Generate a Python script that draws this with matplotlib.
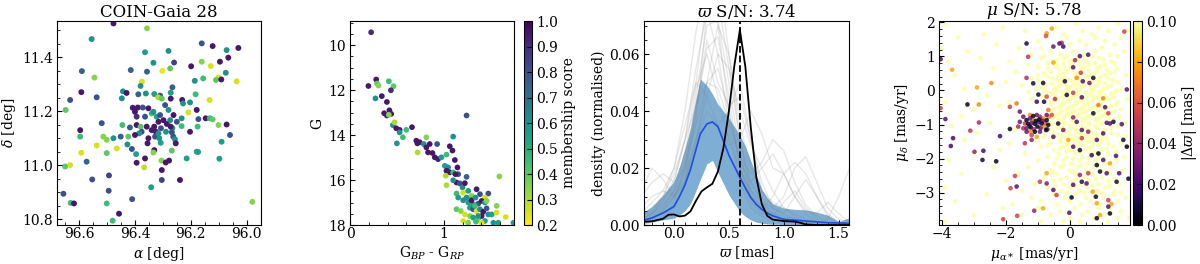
"""
Cluster summary plot: sky positions, CMD, parallax KDEs, proper motions
"""
import matplotlib.pyplot as plt
import numpy as np
from matplotlib import cm, colors

plt.rcParams['font.family'] = ['DejaVu Serif']
plt.rcParams['mathtext.fontset'] = 'dejavuserif'
plt.rcParams['font.size'] = 10
plt.rcParams['xtick.direction'] = 'in'
plt.rcParams['ytick.direction'] = 'in'
plt.rcParams['xtick.minor.visible'] = True
plt.rcParams['ytick.minor.visible'] = True
plt.rcParams['xtick.major.pad'] = 1.5
plt.rcParams['ytick.major.pad'] = 3
plt.rcParams['axes.labelpad'] = 2.5

# ---- panel 1: sky positions (ra, dec, membership score)
ra = [96.477, 96.357, 96.555, 96.161, 96.122, 96.03, 96.072, 96.28, 96.364, 96.066,
      96.334, 96.26, 96.161, 96.096, 96.129, 96.199, 96.59, 96.415, 96.357, 96.302,
      96.274, 96.075, 96.545, 96.156, 96.186, 96.101, 96.11, 96.091, 96.036, 96.375,
      96.38, 96.632, 96.592, 96.537, 96.443, 96.43, 96.447, 96.388, 96.361, 96.331,
      96.31, 96.272, 96.266, 96.317, 96.304, 96.292, 96.272, 96.231, 96.228, 96.203,
      96.183, 96.648, 96.519, 96.408, 96.39, 96.372, 96.4, 96.394, 96.364, 96.352,
      96.34, 96.334, 96.322, 96.31, 96.298, 96.316, 96.286, 96.274, 96.262, 96.25,
      96.233, 96.179, 96.173, 96.147, 96.132, 96.122, 96.209, 96.133, 96.596, 96.596,
      96.592, 96.445, 96.418, 96.394, 96.38, 96.376, 96.385, 96.358, 96.331, 96.325,
      96.307, 96.266, 96.268, 96.233, 96.203, 96.176, 96.513, 96.501, 96.477, 96.451,
      96.424, 96.427, 96.4, 96.352, 96.328, 96.313, 96.308, 96.355, 96.263, 96.257,
      96.254, 96.101, 96.072, 96.06, 96.09, 96.179, 96.268, 96.331, 96.334, 96.396,
      96.411, 96.465, 96.501, 96.537, 96.632, 96.65, 96.573, 96.394, 96.367, 96.364,
      96.305, 96.29, 96.278, 96.304, 96.304, 96.239, 96.215, 96.174, 96.098, 96.553,
      96.493, 96.656, 96.63, 96.618, 96.494, 96.501, 96.41, 96.342, 96.457, 96.48,
      95.98, 96.34, 96.28, 96.289, 96.272, 96.316]
dec = [11.526, 11.508, 11.468, 11.452, 11.442, 11.435, 11.427, 11.424, 11.419, 11.399,
       11.38, 11.381, 11.384, 11.384, 11.368, 11.367, 11.349, 11.353, 11.347, 11.35,
       11.359, 11.343, 11.325, 11.322, 11.313, 11.326, 11.316, 11.318, 11.311, 11.31,
       11.294, 11.242, 11.271, 11.252, 11.274, 11.268, 11.248, 11.263, 11.266, 11.264,
       11.258, 11.269, 11.289, 11.252, 11.247, 11.223, 11.247, 11.242, 11.229, 11.233,
       11.263, 11.205, 11.156, 11.213, 11.214, 11.214, 11.198, 11.18, 11.18, 11.211,
       11.192, 11.198, 11.18, 11.186, 11.167, 11.161, 11.153, 11.167, 11.186, 11.161,
       11.174, 11.205, 11.171, 11.174, 11.174, 11.17, 11.196, 11.242, 11.13, 11.106,
       11.046, 11.149, 11.14, 11.149, 11.143, 11.124, 11.118, 11.143, 11.143, 11.124,
       11.137, 11.137, 11.122, 11.145, 11.124, 11.143, 11.106, 11.094, 11.1, 11.106,
       11.106, 11.077, 11.112, 11.1, 11.106, 11.1, 11.083, 11.081, 11.106, 11.096,
       11.081, 11.149, 11.151, 11.112, 11.087, 11.05, 11.054, 11.056, 11.047, 11.041,
       11.06, 11.062, 11.045, 11.073, 11.0, 10.995, 11.013, 11.009, 10.992, 11.025,
       11.017, 11.01, 11.017, 10.982, 10.945, 10.945, 11.025, 11.049, 11.024, 10.947,
       10.962, 10.894, 10.86, 10.858, 10.905, 10.858, 10.874, 10.918, 10.82, 10.794,
       10.864, 11.13, 11.205, 11.124, 11.143, 11.118]
memb1 = [0.95, 0.35, 0.6, 0.8, 0.95, 0.95, 0.6, 0.6, 0.55, 0.95,
         0.6, 0.85, 0.35, 0.95, 0.25, 0.95, 0.75, 0.75, 0.75, 0.22,
         0.4, 0.6, 0.35, 0.45, 0.6, 0.25, 0.4, 0.95, 0.25, 0.25,
         0.6, 0.8, 0.95, 0.8, 0.6, 0.95, 0.6, 0.75, 0.6, 0.55,
         0.8, 0.55, 0.75, 0.3, 0.4, 0.8, 0.95, 0.95, 0.6, 0.6,
         0.45, 0.4, 0.8, 0.95, 0.95, 0.8, 0.95, 0.9, 0.8, 0.95,
         0.45, 0.6, 0.55, 0.8, 0.95, 0.95, 0.95, 0.6, 0.95, 0.8,
         0.6, 0.95, 0.8, 0.95, 0.45, 0.4, 0.25, 0.25, 0.95, 0.45,
         0.25, 0.45, 0.75, 0.95, 0.4, 0.8, 0.6, 0.95, 0.95, 0.95,
         0.8, 0.55, 0.8, 0.45, 0.95, 0.45, 0.35, 0.35, 0.6, 0.75,
         0.4, 0.6, 0.95, 0.95, 0.8, 0.6, 0.55, 0.95, 0.8, 0.6,
         0.95, 0.35, 0.95, 0.8, 0.55, 0.55, 0.4, 0.95, 0.35, 0.55,
         0.8, 0.25, 0.4, 0.25, 0.25, 0.4, 0.75, 0.95, 0.28, 0.95,
         0.35, 0.95, 0.95, 0.95, 0.85, 0.95, 0.55, 0.55, 0.55, 0.8,
         0.85, 0.8, 0.45, 0.95, 0.8, 0.45, 0.8, 0.55, 0.95, 0.45,
         0.35, 0.95, 0.6, 0.6, 0.95, 0.6]

# ---- panel 2: colour-magnitude diagram
bprp = [0.225, 0.196, 0.279, 0.289, 0.304, 0.271, 0.339, 0.414, 0.464, 0.436,
        0.393, 0.364, 0.393, 0.439, 0.42, 0.414, 0.457, 0.475, 0.493, 0.529,
        0.5, 0.529, 0.564, 0.6, 0.661, 0.707, 0.718, 0.743, 0.721, 0.786,
        0.814, 0.85, 0.814, 0.929, 0.832, 0.879, 0.904, 0.939, 0.975, 1.029,
        1.064, 1.093, 1.1, 1.011, 1.046, 1.029, 1.064, 1.021, 1.1, 1.118,
        1.146, 1.154, 1.125, 1.136, 1.171, 1.2, 1.029, 1.1, 1.243, 1.225,
        1.243, 1.136, 1.207, 1.261, 1.296, 1.35, 1.386, 1.475, 1.439, 1.593,
        1.154, 1.207, 1.261, 1.314, 1.368, 1.404, 1.439, 1.279, 1.314, 1.35,
        1.386, 1.421, 1.457, 1.475, 1.511, 1.564, 1.564, 1.136, 1.182, 1.225,
        1.279, 1.314, 1.368, 1.404, 1.439, 1.529, 1.582, 1.661, 1.207, 1.261,
        1.343, 1.404, 1.743, 1.243, 1.296, 1.339, 1.457, 1.368, 1.332]
gmag = [9.43, 11.82, 11.53, 11.71, 11.8, 12.37, 12.27, 11.61, 11.83, 12.01,
        12.53, 13.03, 13.13, 13.06, 12.9, 13.1, 13.56, 13.43, 13.7, 13.77,
        14.37, 13.88, 14.1, 13.77, 13.65, 14.25, 14.37, 14.32, 14.77, 14.4,
        14.55, 14.4, 14.1, 14.4, 14.77, 14.8, 14.99, 15.07, 14.99, 14.87,
        14.5, 14.69, 14.07, 15.37, 15.44, 15.59, 15.66, 15.81, 15.66, 15.11,
        15.44, 15.74, 15.74, 16.11, 16.15, 16.33, 16.23, 16.01, 15.86, 16.14,
        13.13, 16.6, 16.56, 16.48, 16.71, 16.41, 16.63, 16.6, 16.78, 15.84,
        16.78, 16.9, 17.0, 17.08, 17.05, 16.93, 17.0, 17.23, 17.3, 17.38,
        17.3, 17.41, 17.26, 17.53, 17.53, 17.15, 17.45, 17.3, 17.38, 17.53,
        17.6, 17.67, 17.75, 17.6, 17.82, 17.9, 17.9, 17.64, 17.82, 17.9,
        17.85, 17.9, 17.9, 16.78, 16.9, 16.78, 16.93, 17.6, 17.15]
memb2 = [0.9, 0.95, 0.95, 0.4, 0.35, 0.6, 0.95, 0.45, 0.4, 0.9,
         0.95, 0.95, 0.95, 0.95, 0.95, 0.35, 0.6, 0.3, 0.95, 0.95,
         0.6, 0.6, 0.45, 0.45, 0.95, 0.95, 0.95, 0.95, 0.3, 0.6,
         0.95, 0.95, 0.35, 0.8, 0.95, 0.95, 0.95, 0.95, 0.55, 0.45,
         0.95, 0.95, 0.6, 0.55, 0.6, 0.95, 0.95, 0.3, 0.45, 0.95,
         0.95, 0.8, 0.95, 0.95, 0.8, 0.6, 0.3, 0.6, 0.75, 0.95,
         0.8, 0.45, 0.25, 0.55, 0.35, 0.95, 0.8, 0.8, 0.25, 0.35,
         0.55, 0.6, 0.55, 0.6, 0.8, 0.95, 0.55, 0.55, 0.8, 0.25,
         0.6, 0.95, 0.8, 0.6, 0.55, 0.35, 0.25, 0.4, 0.35, 0.25,
         0.35, 0.55, 0.35, 0.95, 0.55, 0.6, 0.55, 0.25, 0.25, 0.35,
         0.45, 0.25, 0.55, 0.6, 0.95, 0.6, 0.35, 0.6, 0.45]

# ---- panel 3: parallax density curves
plx_grid = [-0.3, -0.2, -0.1, 0.0, 0.1, 0.2, 0.3, 0.4, 0.5, 0.6,
            0.7, 0.8, 0.9, 1.0, 1.1, 1.2, 1.3, 1.4, 1.5, 1.6]
field_kdes = [
    [0.002, 0.004, 0.008, 0.015, 0.03, 0.055, 0.075, 0.06, 0.035, 0.015, 0.006, 0.003, 0.002, 0.001, 0.001, 0.0, 0.0, 0.0, 0.0, 0.0],
    [0.001, 0.002, 0.005, 0.01, 0.02, 0.04, 0.062, 0.066, 0.045, 0.02, 0.008, 0.004, 0.003, 0.008, 0.012, 0.006, 0.002, 0.0, 0.0, 0.0],
    [0.004, 0.008, 0.012, 0.02, 0.035, 0.05, 0.045, 0.035, 0.04, 0.05, 0.03, 0.012, 0.006, 0.004, 0.002, 0.001, 0.0, 0.0, 0.0, 0.0],
    [0.0, 0.001, 0.003, 0.008, 0.02, 0.045, 0.07, 0.072, 0.05, 0.025, 0.01, 0.006, 0.01, 0.018, 0.01, 0.004, 0.001, 0.0, 0.0, 0.0],
    [0.01, 0.015, 0.018, 0.015, 0.02, 0.035, 0.05, 0.055, 0.04, 0.022, 0.015, 0.02, 0.025, 0.018, 0.01, 0.005, 0.004, 0.008, 0.004, 0.001],
    [0.002, 0.004, 0.007, 0.012, 0.025, 0.048, 0.06, 0.045, 0.03, 0.02, 0.012, 0.008, 0.006, 0.01, 0.02, 0.024, 0.015, 0.006, 0.002, 0.001],
    [0.0, 0.002, 0.005, 0.01, 0.018, 0.03, 0.045, 0.06, 0.055, 0.04, 0.028, 0.02, 0.012, 0.006, 0.003, 0.001, 0.0, 0.002, 0.01, 0.02],
    [0.006, 0.01, 0.012, 0.01, 0.015, 0.03, 0.04, 0.035, 0.028, 0.03, 0.04, 0.032, 0.02, 0.018, 0.022, 0.018, 0.01, 0.004, 0.001, 0.0],
    [0.003, 0.006, 0.01, 0.018, 0.03, 0.042, 0.05, 0.048, 0.036, 0.024, 0.018, 0.022, 0.03, 0.026, 0.015, 0.007, 0.003, 0.001, 0.0, 0.0],
    [0.001, 0.003, 0.006, 0.012, 0.022, 0.036, 0.075, 0.08, 0.055, 0.03, 0.015, 0.008, 0.004, 0.002, 0.001, 0.0, 0.0, 0.0, 0.0, 0.0],
    [0.012, 0.02, 0.016, 0.01, 0.016, 0.028, 0.05, 0.07, 0.06, 0.035, 0.02, 0.012, 0.008, 0.006, 0.004, 0.002, 0.001, 0.0, 0.0, 0.0],
    [0.0, 0.001, 0.002, 0.006, 0.015, 0.04, 0.065, 0.05, 0.042, 0.045, 0.03, 0.015, 0.006, 0.004, 0.01, 0.016, 0.01, 0.003, 0.0, 0.0],
    [0.003, 0.005, 0.01, 0.02, 0.04, 0.068, 0.085, 0.07, 0.04, 0.02, 0.01, 0.005, 0.003, 0.002, 0.001, 0.0, 0.0, 0.0, 0.0, 0.0],
    [0.002, 0.004, 0.009, 0.016, 0.03, 0.05, 0.08, 0.09, 0.06, 0.03, 0.012, 0.006, 0.004, 0.003, 0.002, 0.001, 0.0, 0.0, 0.0, 0.0],
]

band_x = [-0.3, -0.2, -0.1, 0.0, 0.05, 0.1, 0.15, 0.2, 0.24, 0.3, 0.35, 0.4, 0.5, 0.6,
          0.65, 0.7, 0.75, 0.8, 0.85, 0.9, 1.0, 1.1, 1.2, 1.3, 1.4, 1.5, 1.6]
band_lo = [0.0006, 0.0012, 0.0018, 0.0024, 0.0035, 0.005, 0.0075, 0.012, 0.016, 0.0215, 0.0227, 0.0185, 0.0106, 0.0047,
           0.003, 0.0018, 0.001, 0.0006, 0.0004, 0.0003, 0.0002, 0.0002, 0.0001, 0.0001, 0.0, 0.0, 0.0]
band_hi = [0.0038, 0.0065, 0.0105, 0.0153, 0.0205, 0.027, 0.034, 0.0445, 0.0512, 0.049, 0.046, 0.0424, 0.0375, 0.0315,
           0.0276, 0.0225, 0.0175, 0.0125, 0.0095, 0.0075, 0.0059, 0.0055, 0.0053, 0.0045, 0.0035, 0.0012, 0.0026]
mean_y = [0.0015, 0.0025, 0.0042, 0.0065, 0.01, 0.0141, 0.0195, 0.0265, 0.032, 0.0355, 0.0362, 0.0345, 0.0245, 0.0167,
          0.013, 0.0096, 0.0072, 0.0055, 0.0042, 0.0032, 0.002, 0.0017, 0.0014, 0.0011, 0.0008, 0.0007, 0.0006]

clu_x = [-0.3, -0.2, -0.1, -0.05, 0.0, 0.05, 0.1, 0.15, 0.2, 0.25, 0.3, 0.35, 0.4, 0.45, 0.5,
         0.55, 0.6, 0.65, 0.7, 0.75, 0.8, 0.85, 0.9, 1.0, 1.1, 1.15, 1.2, 1.3, 1.6]
clu_y = [0.0011, 0.0013, 0.0022, 0.0036, 0.0037, 0.003, 0.0033, 0.0048, 0.0085, 0.0118, 0.0132, 0.0145, 0.0188, 0.027, 0.04,
         0.056, 0.0685, 0.0555, 0.034, 0.0167, 0.0073, 0.0032, 0.0019, 0.0014, 0.0012, 0.0008, 0.0002, 0.0, 0.0]
plx_peak = 0.60

# ---- panel 4: proper motions
# field stars (|dplx| beyond the colour range), row by row in pmdec
field_rows = [
    (1.95, [-3.9, 0.2, 1.5]), (1.85, [-2.1, -0.4, 0.9]), (1.75, [-1.4, 0.4, 1.2, 1.8]),
    (1.65, [-2.7, -0.2, 0.7]), (1.55, [-3.5, -0.1, 0.8, 1.6]), (1.45, [-1.0, 0.3, 1.1]),
    (1.35, [-2.3, 0.0, 0.5, 1.4]), (1.25, [-4.0, -1.6, -0.9, 1.0]), (1.15, [-3.2, -0.6, 0.1, 0.8, 1.7]),
    (1.05, [-1.2, -0.3, 0.45, 1.25]), (0.95, [-2.8, -0.9, -0.2, 0.25, 0.9]),
    (0.85, [-3.8, -1.9, -0.5, 0.0, 0.55, 1.3]), (0.75, [-1.3, -0.4, 0.1, 0.6, 1.1]),
    (0.65, [-2.4, -0.7, -0.15, 0.35, 0.85, 1.5]), (0.55, [-1.7, -0.6, -0.1, 0.4, 0.85, 1.4]),
    (0.45, [-3.6, -1.0, -0.35, 0.15, 0.6, 1.1, 1.75]), (0.35, [-1.2, -0.55, -0.1, 0.3, 0.7, 1.2]),
    (0.25, [-2.0, -0.85, -0.3, 0.1, 0.5, 0.95, 1.5]), (0.15, [-1.5, -0.75, -0.3, 0.1, 0.45, 0.85, 1.3]),
    (0.05, [-3.3, -1.05, -0.5, -0.1, 0.25, 0.65, 1.05, 1.65]),
    (-0.05, [-1.3, -0.65, -0.25, 0.15, 0.5, 0.9, 1.4]),
    (-0.15, [-2.6, -0.9, -0.45, -0.05, 0.3, 0.7, 1.1]),
    (-0.25, [-1.2, -0.4, 0.0, 0.35, 0.75, 1.2, 1.8]),
    (-0.35, [-3.9, -1.9, -0.6, -0.2, 0.2, 0.55, 0.95, 1.5]),
    (-0.45, [-2.2, -0.3, 0.1, 0.45, 0.85, 1.3]),
    (-0.55, [-3.0, -0.5, -0.1, 0.3, 0.65, 1.05, 1.6]),
    (-0.65, [-0.3, 0.05, 0.4, 0.8, 1.25]),
    (-0.75, [-3.4, -0.5, -0.15, 0.25, 0.6, 1.0, 1.55]),
    (-0.85, [-0.35, 0.05, 0.4, 0.8, 1.4]),
    (-0.95, [-2.5, -0.55, -0.15, 0.2, 0.6, 1.0, 1.7]),
    (-1.05, [-3.7, -0.4, 0.0, 0.4, 0.8, 1.5]),
    (-1.15, [-1.7, -0.6, -0.2, 0.2, 0.6, 1.1]),
    (-1.25, [-2.9, -0.5, -0.05, 0.35, 0.75, 1.3]),
    (-1.35, [-0.8, -0.25, 0.15, 0.55, 1.0, 1.75]),
    (-1.45, [-3.3, -1.0, -0.3, 0.1, 0.5, 0.95]),
    (-1.55, [-1.9, -0.6, -0.1, 0.3, 0.7, 1.2, 1.6]),
    (-1.65, [-0.9, -0.2, 0.2, 0.7, 1.35]),
    (-1.75, [-2.2, -0.5, 0.0, 0.45, 1.0]),
    (-1.85, [-3.0, -1.4, -0.35, 0.15, 0.65, 1.2]),
    (-1.95, [-0.7, -0.1, 0.4, 0.9, 1.7]),
    (-2.05, [-3.8, -1.0, -0.2, 0.3, 0.8, 1.45]),
    (-2.15, [-0.5, 0.05, 0.55, 1.1]),
    (-2.25, [-2.4, -1.3, -0.3, 0.25, 0.75, 1.3]),
    (-2.35, [-0.6, 0.0, 0.5, 1.0, 1.65]),
    (-2.45, [-3.4, -1.6, -0.4, 0.2, 0.7, 1.25]),
    (-2.55, [-0.8, -0.1, 0.45, 1.0]),
    (-2.65, [-2.0, -0.5, 0.1, 0.6, 1.2]),
    (-2.75, [-1.1, -0.2, 0.35, 0.9, 1.55]),
    (-2.85, [-3.9, -0.7, 0.0, 0.55, 1.1]),
    (-2.95, [-1.5, -0.3, 0.3, 0.85, 1.4]),
    (-3.05, [-2.6, -0.5, 0.2, 0.8, 1.35]),
    (-3.15, [-1.2, -0.15, 0.5, 1.05, 1.75]),
    (-3.25, [-3.6, -0.9, 0.0, 0.65, 1.5]),
    (-3.35, [-1.8, -0.4, 0.35, 0.95]),
    (-3.45, [-2.1, -1.0, 0.15, 0.9, 1.25]),
    (-3.55, [-0.3, 0.55, 1.6]),
    (-3.65, [-3.0, -1.5, -0.6, 0.4, 1.1]),
    (-3.75, [0.0, 0.75, 1.5, 1.85]),
    (-3.85, [-3.9, -0.9, -0.2, 0.3, 1.2]),
    # denser core of the field distribution
    (1.0, [-0.8, -0.1, 0.3, 0.7, 1.5]), (0.9, [-0.4, 0.1, 0.45, 1.05]),
    (0.8, [-0.7, -0.2, 0.3, 0.8, 1.4]), (0.7, [-1.0, -0.45, 0.0, 0.45, 0.95]),
    (0.6, [-0.35, 0.1, 0.6, 1.15]), (0.5, [-0.8, -0.2, 0.25, 0.75, 1.25]),
    (0.4, [-0.7, -0.25, 0.2, 0.5, 0.95]), (0.3, [-1.0, -0.4, 0.0, 0.4, 0.85, 1.35]),
    (0.2, [-0.55, -0.15, 0.25, 0.65, 1.1]), (0.1, [-0.9, -0.4, 0.0, 0.35, 0.75, 1.2]),
    (0.0, [-0.8, -0.4, -0.05, 0.3, 0.7, 1.0, 1.5]), (-0.1, [-0.55, -0.15, 0.2, 0.6, 0.95, 1.3]),
    (-0.2, [-0.75, -0.25, 0.1, 0.5, 0.85, 1.35]), (-0.3, [-0.45, -0.05, 0.35, 0.7, 1.05]),
    (-0.4, [-0.6, -0.2, 0.2, 0.55, 0.95, 1.45]), (-0.5, [-0.35, 0.0, 0.4, 0.75, 1.2]),
    (-0.6, [-0.6, -0.25, 0.15, 0.5, 0.9, 1.4]), (-0.7, [-0.4, -0.05, 0.3, 0.7, 1.1]),
    (-0.8, [-0.5, -0.2, 0.15, 0.5, 0.9, 1.2]), (-0.9, [-0.3, 0.1, 0.45, 0.85, 1.25]),
    (-1.0, [-0.6, -0.2, 0.2, 0.6, 1.0]), (-1.1, [-0.35, 0.05, 0.45, 0.85, 1.3]),
    (-1.2, [-0.7, -0.15, 0.25, 0.6, 1.05]), (-1.3, [-0.4, 0.0, 0.4, 0.85, 1.5]),
    (-1.4, [-0.55, -0.1, 0.3, 0.7, 1.15]), (-1.5, [-0.3, 0.15, 0.6, 1.0]),
    (-1.6, [-0.7, -0.05, 0.4, 0.9]), (-1.7, [-0.3, 0.1, 0.6, 1.15]),
    (-1.8, [-0.1, 0.3, 0.8, 1.45]), (-2.0, [-0.4, 0.1, 0.6, 1.1]),
    (-2.2, [-0.2, 0.35, 0.9]), (-2.4, [-0.5, 0.1, 0.6, 1.15]),
    (-2.6, [-0.3, 0.25, 0.8, 1.4]), (-2.8, [-0.45, 0.15, 0.7, 1.25]),
    (-3.0, [-0.1, 0.45, 1.0, 1.6]),
]

# stars with small parallax difference
pmra_c = [-4.05, -3.69, -2.91, -2.46, -3.21, -2.85, -4.05, -3.9, -3.66, -3.73,
          -3.12, -2.85, -2.99, -2.71, -2.74, -2.31, -2.19, -1.88, -1.36, -1.31,
          -1.36, -1.15, -0.84, -0.99, -1.04, -0.73, -0.81, -1.88, -1.67, -1.57,
          -0.68, -0.57, -0.75, -0.52, -1.46, -1.36, -1.2, -1.04, -1.41, -1.2,
          -1.46, -1.36, -1.25, -1.15, -1.04, -0.94, -0.84, -0.73, -1.41, -1.31,
          -1.2, -1.1, -0.99, -0.89, -0.78, -0.68, -1.36, -1.23, -1.13, -1.02,
          -0.92, -0.81, -0.71, -1.25, -1.1, -0.94, -1.17, -0.96, -0.86, -1.27,
          -1.07, -0.73, -1.25, -1.57, -1.62, -0.65,
          -0.52, -0.33, -0.26, -0.21, -0.57, -0.75, -0.73, 0.31, 0.57, 0.16,
          0.1, -0.52, 0.34, 0.4, 0.61, -0.16, 0.21, 0.73, 0.1, -0.1,
          0.37, 1.04, 1.78, -0.47, 1.1, 1.2, 0.73, 0.89, 0.1, 0.21,
          1.15, 1.25, 1.36, 1.62, 0.37, -0.21, -0.37, 1.04, 0.84, 0.37,
          -0.05, 1.67, 1.78, 1.44, 0.1, 0.31, 0.68, 0.89, 0.84, 1.04,
          1.25, 1.54, 1.83, 1.15, 0.94, 0.57, 0.31, 0.1, 0.37, 0.52,
          0.71, 0.81, 0.84, 1.2, 1.3, 1.2, 1.25, 0.94, 0.84, 0.05,
          -0.02, -0.52, -0.42, -0.73, -0.94, -0.73, -0.84, -1.12, -1.67, -1.72,
          -1.86, -2.09, -1.65, 1.46, 1.7, 0.57]
pmdec_c = [0.92, 0.61, 0.09, 0.22, -0.41, -0.41, -0.52, -0.84, -1.4, -1.63,
           -1.18, -0.94, -1.8, -1.77, -2.04, -2.08, -1.34, -1.13, 1.38, 0.99,
           0.37, 0.21, 0.22, -0.12, -0.33, -0.18, -0.33, -0.48, -0.38, -0.62,
           -0.57, -0.72, -1.16, -1.36, -1.11, -1.21, -1.31, -1.36, -1.55, -1.45,
           -0.77, -0.87, -0.82, -0.75, -0.72, -0.77, -0.82, -0.87, -0.97, -0.98,
           -0.95, -0.98, -0.92, -0.97, -0.95, -1.01, -1.11, -1.08, -1.14, -1.06,
           -1.11, -1.06, -1.14, -1.21, -1.21, -1.21, -0.87, -0.85, -0.89, -1.04,
           -0.89, -0.72, -0.72, -0.92, -1.06, -0.77,
           1.29, 1.38, 1.4, 1.29, 1.82, 1.6, 1.68, 1.01, 1.05, 0.89,
           0.68, 0.82, 0.52, 0.27, 0.22, 0.27, 0.37, 0.37, -0.07, -0.13,
           -0.2, -0.23, 0.03, -0.25, -0.49, -0.67, -0.67, -0.43, -0.79, -0.92,
           -0.95, -0.97, -0.92, -0.99, -1.16, -1.16, -0.97, -1.26, -1.45, -1.4,
           -1.45, -1.45, -1.65, -1.92, -1.65, -1.75, -1.9, -1.85, -2.19, -2.04,
           -2.14, -2.43, -2.59, -2.43, -2.38, -2.43, -2.48, -2.77, -2.68, -2.73,
           -2.97, -3.12, -3.31, -3.22, -3.33, -3.41, -3.61, -3.66, -3.75, -3.14,
           -3.59, -2.92, -3.07, -2.43, -2.68, -2.73, -3.46, -3.53, -2.82, -2.51,
           -2.87, -3.78, -3.68, -2.68, 1.73, -1.21]
dplx_c = [0.02, 0.08, 0.08, 0.075, 0.005, 0.075, 0.055, 0.025, 0.02, 0.02,
          0.05, 0.045, 0.04, 0.02, 0.01, 0.005, 0.02, 0.005, 0.01, 0.05,
          0.045, 0.01, 0.01, 0.01, 0.02, 0.06, 0.01, 0.055, 0.07, 0.03,
          0.07, 0.06, 0.005, 0.025, 0.045, 0.03, 0.055, 0.08, 0.05, 0.04,
          0.03, 0.005, 0.03, 0.005, 0.03, 0.045, 0.075, 0.005, 0.055, 0.005,
          0.03, 0.005, 0.025, 0.005, 0.06, 0.005, 0.03, 0.005, 0.045, 0.005,
          0.03, 0.075, 0.025, 0.075, 0.005, 0.03, 0.075, 0.005, 0.03, 0.045,
          0.005, 0.03, 0.075, 0.03, 0.045, 0.075,
          0.03, 0.025, 0.045, 0.02, 0.08, 0.06, 0.08, 0.025, 0.025, 0.045,
          0.025, 0.08, 0.055, 0.025, 0.035, 0.01, 0.075, 0.01, 0.055, 0.01,
          0.025, 0.075, 0.025, 0.05, 0.025, 0.055, 0.01, 0.07, 0.04, 0.025,
          0.025, 0.025, 0.01, 0.025, 0.025, 0.035, 0.01, 0.025, 0.025, 0.055,
          0.08, 0.01, 0.002, 0.025, 0.025, 0.01, 0.02, 0.005, 0.005, 0.025,
          0.08, 0.025, 0.005, 0.025, 0.01, 0.055, 0.04, 0.025, 0.015, 0.025,
          0.08, 0.01, 0.08, 0.055, 0.08, 0.025, 0.005, 0.08, 0.005, 0.005,
          0.025, 0.025, 0.055, 0.08, 0.055, 0.035, 0.08, 0.04, 0.025, 0.055,
          0.055, 0.055, 0.055, 0.01, 0.055, 0.04]

# ------------------------------------------------------------------
fig = plt.figure(figsize=(12, 2.64), dpi=100)
memb_norm = colors.Normalize(vmin=0.2, vmax=1.0)

# panel 1
ax1 = fig.add_axes([0.0475, 0.1477, 0.17, 0.7727])
ax1.scatter(ra, dec, c=memb1, cmap='viridis_r', norm=memb_norm, s=18, edgecolors='none')
ax1.set_xlim(96.679, 95.949)
ax1.set_ylim(10.778, 11.535)
ax1.set_xticks([96.6, 96.4, 96.2, 96.0])
ax1.set_yticks([10.8, 11.0, 11.2, 11.4])
ax1.set_xlabel(r'$\alpha$ [deg]')
ax1.set_ylabel(r'$\delta$ [deg]')
ax1.set_title('COIN-Gaia 28', fontsize=12, pad=3)

# panel 2
ax2 = fig.add_axes([0.2917, 0.1477, 0.1367, 0.7727])
sc2 = ax2.scatter(bprp, gmag, c=memb2, cmap='viridis_r', norm=memb_norm, s=17, edgecolors='none')
ax2.set_xlim(0, 1.75)
ax2.set_ylim(18, 8.93)
ax2.set_xticks([0, 1])
ax2.set_yticks([10, 12, 14, 16, 18])
ax2.set_xlabel(r'G$_{BP}$ - G$_{RP}$')
ax2.set_ylabel('G')
cax2 = fig.add_axes([0.4367, 0.1477, 0.0069, 0.7727])
cb2 = fig.colorbar(sc2, cax=cax2)
cb2.set_ticks([0.2, 0.3, 0.4, 0.5, 0.6, 0.7, 0.8, 0.9, 1.0])
cb2.ax.minorticks_off()
cb2.set_label('membership score')

# panel 3
ax3 = fig.add_axes([0.5367, 0.1477, 0.1708, 0.7727])
for kde in field_kdes:
    ax3.plot(plx_grid, kde, color='grey', alpha=0.18, lw=1)
ax3.fill_between(band_x, band_lo, band_hi, color='#2878b8', alpha=0.6, lw=0)
ax3.plot(band_x, mean_y, color='#1f4ee0', lw=1.2)
ax3.plot(clu_x, clu_y, color='k', lw=1.3)
ax3.axvline(plx_peak, color='k', ls='--', lw=1.3)
ax3.set_xlim(-0.273, 1.594)
ax3.set_ylim(0, 0.0716)
ax3.set_xticks([0.0, 0.5, 1.0, 1.5])
ax3.set_yticks([0.0, 0.02, 0.04, 0.06])
ax3.set_xlabel(r'$\varpi$ [mas]')
ax3.set_ylabel('density (normalised)')
ax3.set_title(r'$\varpi$ S/N: 3.74', fontsize=12, pad=3)

# panel 4
bg_x = [x for d, row in field_rows for x in row]
bg_y = [d for d, row in field_rows for x in row]
ax4 = fig.add_axes([0.7825, 0.1477, 0.1592, 0.7727])
dplx_norm = colors.Normalize(vmin=0.0, vmax=0.1)
ax4.scatter(bg_x, bg_y, color=cm.inferno(1.0), alpha=0.8, s=12, edgecolors='none')
order = np.argsort(dplx_c)[::-1]
ax4.scatter(np.array(pmra_c)[order], np.array(pmdec_c)[order], c=np.array(dplx_c)[order],
            cmap='inferno', norm=dplx_norm, alpha=0.85, s=11, edgecolors='none')
ax4.set_xlim(-4.1, 1.88)
ax4.set_ylim(-3.95, 2.04)
ax4.set_xticks([-4, -2, 0])
ax4.set_yticks([-3, -2, -1, 0, 1, 2])
ax4.set_xlabel(r'$\mu_{\alpha*}$ [mas/yr]')
ax4.set_ylabel(r'$\mu_\delta$ [mas/yr]')
ax4.set_title(r'$\mu$ S/N: 5.78', fontsize=12, pad=3)
cax4 = fig.add_axes([0.9442, 0.1477, 0.0075, 0.7727])
cb4 = fig.colorbar(cm.ScalarMappable(norm=dplx_norm, cmap='inferno'), cax=cax4)
cb4.set_ticks([0.0, 0.02, 0.04, 0.06, 0.08, 0.10])
cb4.ax.minorticks_off()
cb4.set_label(r'$|\Delta\varpi|$ [mas]')

fig.savefig('out.png', dpi=100)
